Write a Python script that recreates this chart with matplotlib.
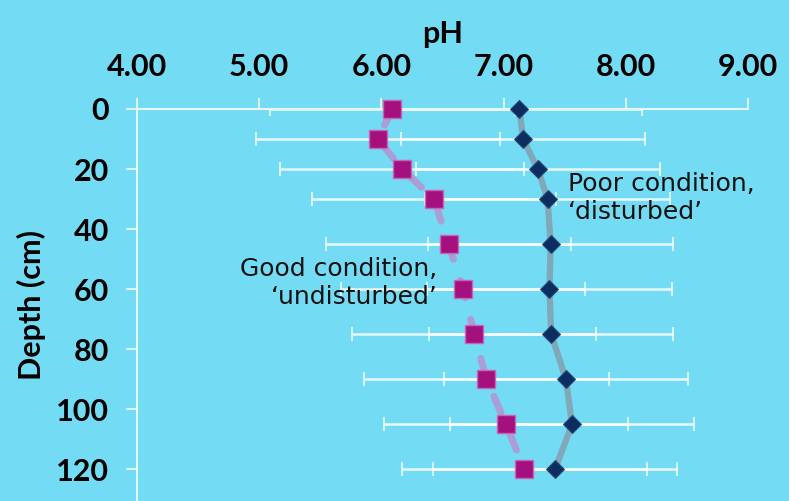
import matplotlib.pyplot as plt

# soil pH down the profile, two site conditions
depth = [0, 10, 20, 30, 45, 60, 75, 90, 105, 120]
ph_good = [6.09, 5.97, 6.17, 6.43, 6.55, 6.67, 6.76, 6.86, 7.02, 7.17]
ph_poor = [7.13, 7.16, 7.28, 7.36, 7.385, 7.375, 7.39, 7.51, 7.56, 7.42]
err_good = [1.0, 1.0, 1.0, 1.0, 1.0, 1.0, 1.0, 1.0, 1.0, 1.0]
err_poor = [1.0, 1.0, 1.0, 1.0, 1.0, 1.0, 1.0, 1.0, 1.0, 1.0]

x_ticks = [4, 5, 6, 7, 8, 9]
y_ticks = [0, 20, 40, 60, 80, 100, 120]

bg = "#74dbf4"
axis_col = "#e6f7fc"
bold_font = dict(family="Lato", weight="bold", size=22)

fig = plt.figure(figsize=(7.89, 5.01), dpi=100, facecolor=bg)
ax = fig.add_axes([137 / 789, 0, 611 / 789, 392 / 501], facecolor=bg)

# error bars first so the lines and markers sit on top
for vals, errs in [(ph_good, err_good), (ph_poor, err_poor)]:
    ax.errorbar(vals, depth, xerr=errs, fmt="none", ecolor="white",
                elinewidth=1.8, capsize=5, capthick=1.2, alpha=0.85, zorder=2)

ax.plot(ph_good, depth, color="#a99ed6", linewidth=5, linestyle=(0, (2.6, 3.2)),
        dash_capstyle="round", zorder=3, clip_on=False)
ax.plot(ph_poor, depth, color="#7fa8b8", linewidth=4.5, solid_joinstyle="round",
        zorder=3, clip_on=False)
ax.plot(ph_good, depth, linestyle="none", marker="s", markersize=13,
        markerfacecolor="#a5107f", markeredgecolor="#c965b4", markeredgewidth=1,
        zorder=4, clip_on=False)
ax.plot(ph_poor, depth, linestyle="none", marker="D", markersize=9,
        markerfacecolor="#0b2d5f", markeredgecolor="#2a4a75", markeredgewidth=0.8,
        zorder=4, clip_on=False)

ax.set_xlim(4, 9)
ax.set_ylim(130.5, 0)

ax.xaxis.set_ticks_position("top")
ax.xaxis.set_label_position("top")
ax.set_xticks(x_ticks)
ax.set_xticklabels([f"{v:.2f}" for v in x_ticks], fontdict=bold_font)
ax.set_yticks(y_ticks)
ax.set_yticklabels([str(v) for v in y_ticks], fontdict=bold_font)

for s in ["right", "bottom"]:
    ax.spines[s].set_visible(False)
for s in ["left", "top"]:
    ax.spines[s].set_color(axis_col)
    ax.spines[s].set_linewidth(1.5)

ax.tick_params(axis="both", direction="out", length=8, width=1.3, color=axis_col,
               pad=12)

ax.set_xlabel("pH", fontdict=bold_font, labelpad=7)
ax.set_ylabel("Depth (cm)", fontdict=bold_font, labelpad=7)

ax.text(7.53, 29.5, "Poor condition,\n\u2018disturbed\u2019", fontsize=18,
        family="DejaVu Sans", color="#111111", ha="left", va="center",
        linespacing=1.2, zorder=5)
ax.text(6.46, 58, "Good condition,\n\u2018undisturbed\u2019", fontsize=18,
        family="DejaVu Sans", color="#111111", ha="right", va="center",
        multialignment="right", linespacing=1.2, zorder=5)

plt.savefig("out.png", dpi=100, facecolor=bg)
